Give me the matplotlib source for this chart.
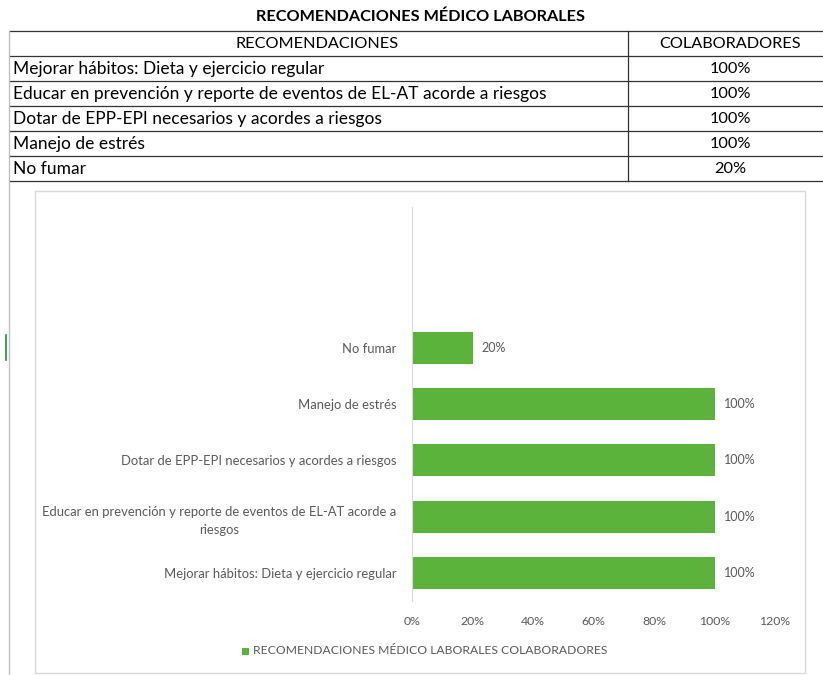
import matplotlib
matplotlib.use('Agg')
import matplotlib.pyplot as plt
from matplotlib.lines import Line2D
from matplotlib.patches import Rectangle

# data
title = 'RECOMENDACIONES MÉDICO LABORALES'
col_headers = ['RECOMENDACIONES', 'COLABORADORES']
recomendaciones = ['Mejorar hábitos: Dieta y ejercicio regular',
                   'Educar en prevención y reporte de eventos de EL-AT acorde a riesgos',
                   'Dotar de EPP-EPI necesarios y acordes a riesgos',
                   'Manejo de estrés',
                   'No fumar']
chart_labels = ['Mejorar hábitos: Dieta y ejercicio regular',
                'Educar en prevención y reporte de eventos de EL-AT acorde a\nriesgos',
                'Dotar de EPP-EPI necesarios y acordes a riesgos',
                'Manejo de estrés',
                'No fumar']
colaboradores = [100, 100, 100, 100, 20]
xticks = [0, 20, 40, 60, 80, 100, 120]
legend_label = 'RECOMENDACIONES MÉDICO LABORALES COLABORADORES'

plt.rcParams['font.family'] = ['Lato', 'DejaVu Sans']
W, H = 823, 675
green = '#5BB33B'
grey_txt = '#595959'

fig = plt.figure(figsize=(W / 100, H / 100), dpi=100)


def fx(px):
    return px / W


def fy(py):
    return 1 - py / H


# ---- table at the top ----
fig.text(fx(421), fy(17), title, ha='center', va='center',
         fontsize=11.7, fontweight='bold', color='black')
row_h = 25
top = 31
n_rows = len(recomendaciones) + 1
for i in range(n_rows + 1):
    y = top + i * row_h
    fig.add_artist(Line2D([fx(10), 1], [fy(y), fy(y)], color='#333333', lw=0.9))
fig.add_artist(Line2D([fx(628), fx(628)], [fy(top), fy(top + n_rows * row_h)],
                      color='#333333', lw=0.9))
fig.add_artist(Line2D([fx(9), fx(9)], [fy(top), fy(H)], color='#BBBBBB', lw=0.9))
fig.add_artist(Line2D([fx(6), fx(6)], [fy(335), fy(360)], color='#1E8A4A', lw=1.2))

fig.text(fx(317), fy(top + row_h / 2), col_headers[0], ha='center', va='center', fontsize=11.7)
fig.text(fx(730), fy(top + row_h / 2), col_headers[1], ha='center', va='center', fontsize=11.7)
for i, (rec, val) in enumerate(zip(recomendaciones, colaboradores)):
    yc = top + (i + 1.5) * row_h + 0.5
    fig.text(fx(13), fy(yc), rec, ha='left', va='center', fontsize=12.5)
    fig.text(fx(730), fy(yc), f'{val}%', ha='center', va='center', fontsize=11.8)

# ---- chart frame ----
fig.add_artist(Rectangle((fx(35), fy(673)), fx(805 - 35), fy(191) - fy(673),
                         fill=False, edgecolor='#D9D9D9', lw=1))

ax = fig.add_axes([fx(412), fy(601), fx(775 - 412), fy(207) - fy(601)])
ypos = list(range(len(chart_labels)))
bars = ax.barh(ypos, colaboradores, height=0.57, color=green)
for b, v in zip(bars, colaboradores):
    ax.text(v + 3, b.get_y() + b.get_height() / 2, f'{v}%', va='center', ha='left',
            fontsize=9, color=grey_txt)

ax.set_xlim(0, 120)
ax.set_ylim(-0.5, 6.5)
ax.set_xticks(xticks)
ax.set_xticklabels([f'{t}%' for t in xticks], fontsize=8.8, color=grey_txt)
ax.set_yticks(ypos)
ax.set_yticklabels(chart_labels, fontsize=9.4, color=grey_txt,
                   multialignment='center', linespacing=1.6)
ax.tick_params(length=0, pad=11)
ax.tick_params(axis='x', pad=11)
for s in ['top', 'right', 'bottom']:
    ax.spines[s].set_visible(False)
ax.spines['left'].set_color('#D9D9D9')

# legend
fig.add_artist(Rectangle((fx(242), fy(655)), fx(7), fy(648) - fy(655),
                         facecolor=green, edgecolor='none'))
fig.text(fx(253), fy(651), legend_label, ha='left', va='center', fontsize=8.7, color=grey_txt)

plt.savefig('out.png', dpi=100)
